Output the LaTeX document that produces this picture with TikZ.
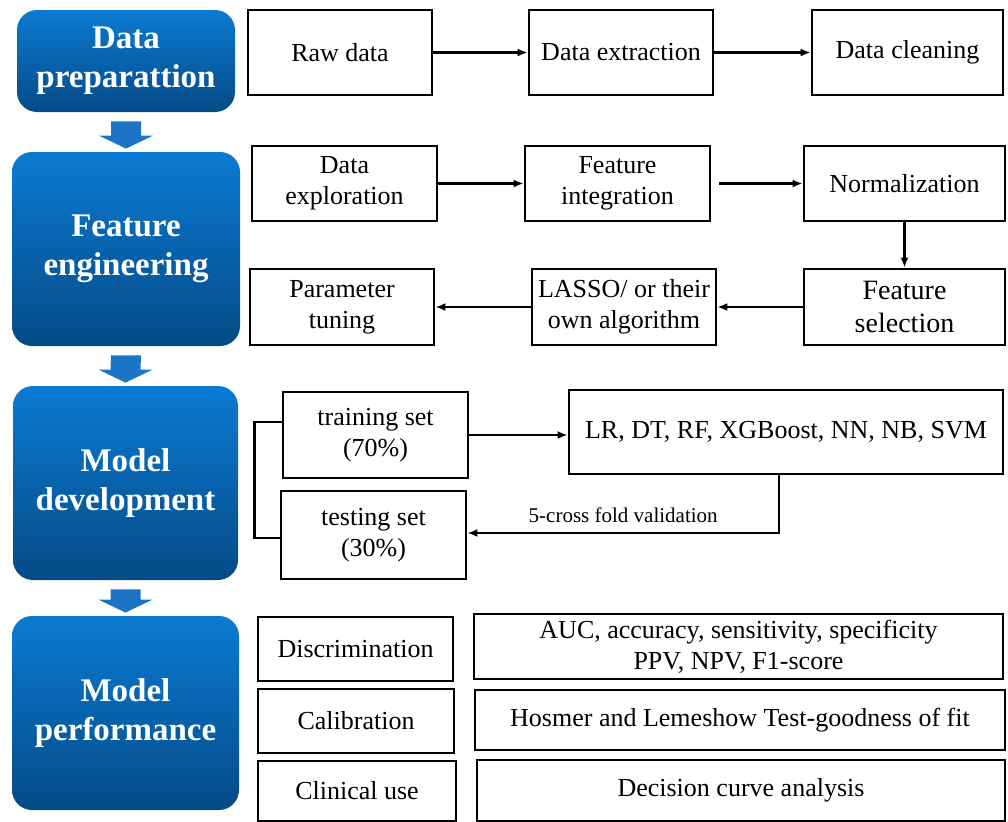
\documentclass[tikz,border=0pt]{standalone}
\usepackage{fontspec}
\setmainfont{Liberation Serif}
\usetikzlibrary{calc,arrows.meta}
\definecolor{stagetop}{HTML}{0A7BD3}
\definecolor{stagemid}{HTML}{0868B8}
\definecolor{stagebot}{HTML}{054A86}
\definecolor{arrowblue}{HTML}{1C74C6}
\def\blockarrow(#1)(#2){\fill[arrowblue] ($(#1.south)+(-15,9)$) -- ($(#1.south)+(15,9)$) -- ($(#2.north)+(15,-16)$) -- ($(#2.north)+(27,-16)$) -- ($(#2.north)+(0,-3)$) -- ($(#2.north)+(-27,-16)$) -- ($(#2.north)+(-15,-16)$) -- cycle;}

\begin{document}
\begin{tikzpicture}[x=0.5pt, y=-0.5pt,
		boxsize/.style 2 args={minimum width=#1*0.5pt, minimum height=#2*0.5pt},
		stage/.style={rounded corners=10pt, top color=stagetop, middle color=stagemid, bottom color=stagebot, text=white, font=\fontsize{16.5}{19.5}\selectfont\bfseries, align=center, inner sep=0pt},
		plainbox/.style={draw, line width=1.4pt, align=center, inner sep=0pt, font=\fontsize{13}{15.5}\selectfont},
		flow/.style={line width=1.2pt, -{Latex[length=5pt,width=4pt]}}]
			%%%%% START %%%%%
			\useasboundingbox (0,0) rectangle (1008,821);
			
			\node[stage, boxsize={218}{102}] (prep) at (126,61) {Data\\preparattion};
			\node[stage, boxsize={228}{194}] (feat) at (126,249) {Feature\\engineering};
			\node[stage, boxsize={225}{194}] (dev) at (125.5,483) {Model\\development};
			\node[stage, boxsize={227}{194}] (perf) at (125.5,713) {Model\\performance};
			
			\blockarrow(prep)(feat)
			\blockarrow(feat)(dev)
			\blockarrow(dev)(perf)
			
			%%%%% DATA %%%%%
			\node[plainbox, boxsize={184}{85}] (raw) at (340,52.5) {Raw data};
			\node[plainbox, boxsize={184}{85}] (extract) at (621,52.5) {Data extraction};
			\node[plainbox, boxsize={191}{85}] (clean) at (907.5,52.5) {Data cleaning};
			\draw[flow] (raw) -- (extract);
			\draw[flow] (extract) -- (clean);
			
			%%%%% FEATURES %%%%%
			\node[plainbox, boxsize={185}{75}] (explore) at (344.5,183.5) {Data\\exploration};
			\node[plainbox, boxsize={185}{75}] (integ) at (617.5,183.5) {Feature\\integration};
			\node[plainbox, boxsize={201}{75}] (norm) at (904.5,183.5) {Normalization};
			\node[plainbox, boxsize={184}{76}] (tuning) at (342,307) {Parameter\\tuning};
			\node[plainbox, boxsize={184}{76}] (lasso) at (624,307) {LASSO/ or their\\own algorithm};
			\node[plainbox, boxsize={201}{76}, font=\fontsize{14}{16.5}\selectfont] (select) at (904.5,307) {Feature\\selection};
			\draw[flow] (explore) -- (integ);
			\draw[flow] ([xshift=4pt]integ.east) -- (norm);
			\draw[flow] (norm) -- (select);
			\draw[flow] (select) -- (lasso);
			\draw[flow] (lasso) -- (tuning);
			
			%%%%% MODELS %%%%%
			\node[plainbox, boxsize={185}{86}] (train) at (375.5,435) {training set\\(70\%)};
			\node[plainbox, boxsize={185}{88}] (test) at (373.5,535) {testing set\\(30\%)};
			\node[plainbox, boxsize={434}{84}] (algo) at (786,432) {LR, DT, RF, XGBoost, NN, NB, SVM};
			\draw[line width=1.4pt] ([yshift=6.5pt]train.west) -- ++(-27,0) |- ([yshift=-1.5pt]test.west);
			\draw[flow] (train.east) -- (train.east -| algo.west);
			\draw[flow] ([xshift=-3.5pt]algo.south) |- node[pos=0.75, above=1pt, font=\fontsize{10.5}{12}\selectfont] {5-cross fold validation} ([yshift=1pt]test.east);
			
			%%%%% PERFORMANCE %%%%%
			\node[plainbox, boxsize={195}{64}] (discr) at (355.5,649) {Discrimination};
			\node[plainbox, boxsize={529}{65}] (auc) at (738.5,646.5) {AUC, accuracy, sensitivity, specificity\\PPV, NPV, F1-score};
			\node[plainbox, boxsize={196}{64}] (calib) at (356,721) {Calibration};
			\node[plainbox, boxsize={530}{60}] (hosmer) at (740,720) {Hosmer and Lemeshow Test-goodness of fit};
			\node[plainbox, boxsize={198}{60}] (clinic) at (357,791) {Clinical use};
			\node[plainbox, boxsize={528}{61}] (decision) at (741,790.5) {Decision curve analysis};
			
			%%%%% END %%%%%
		\end{tikzpicture}
\end{document}
